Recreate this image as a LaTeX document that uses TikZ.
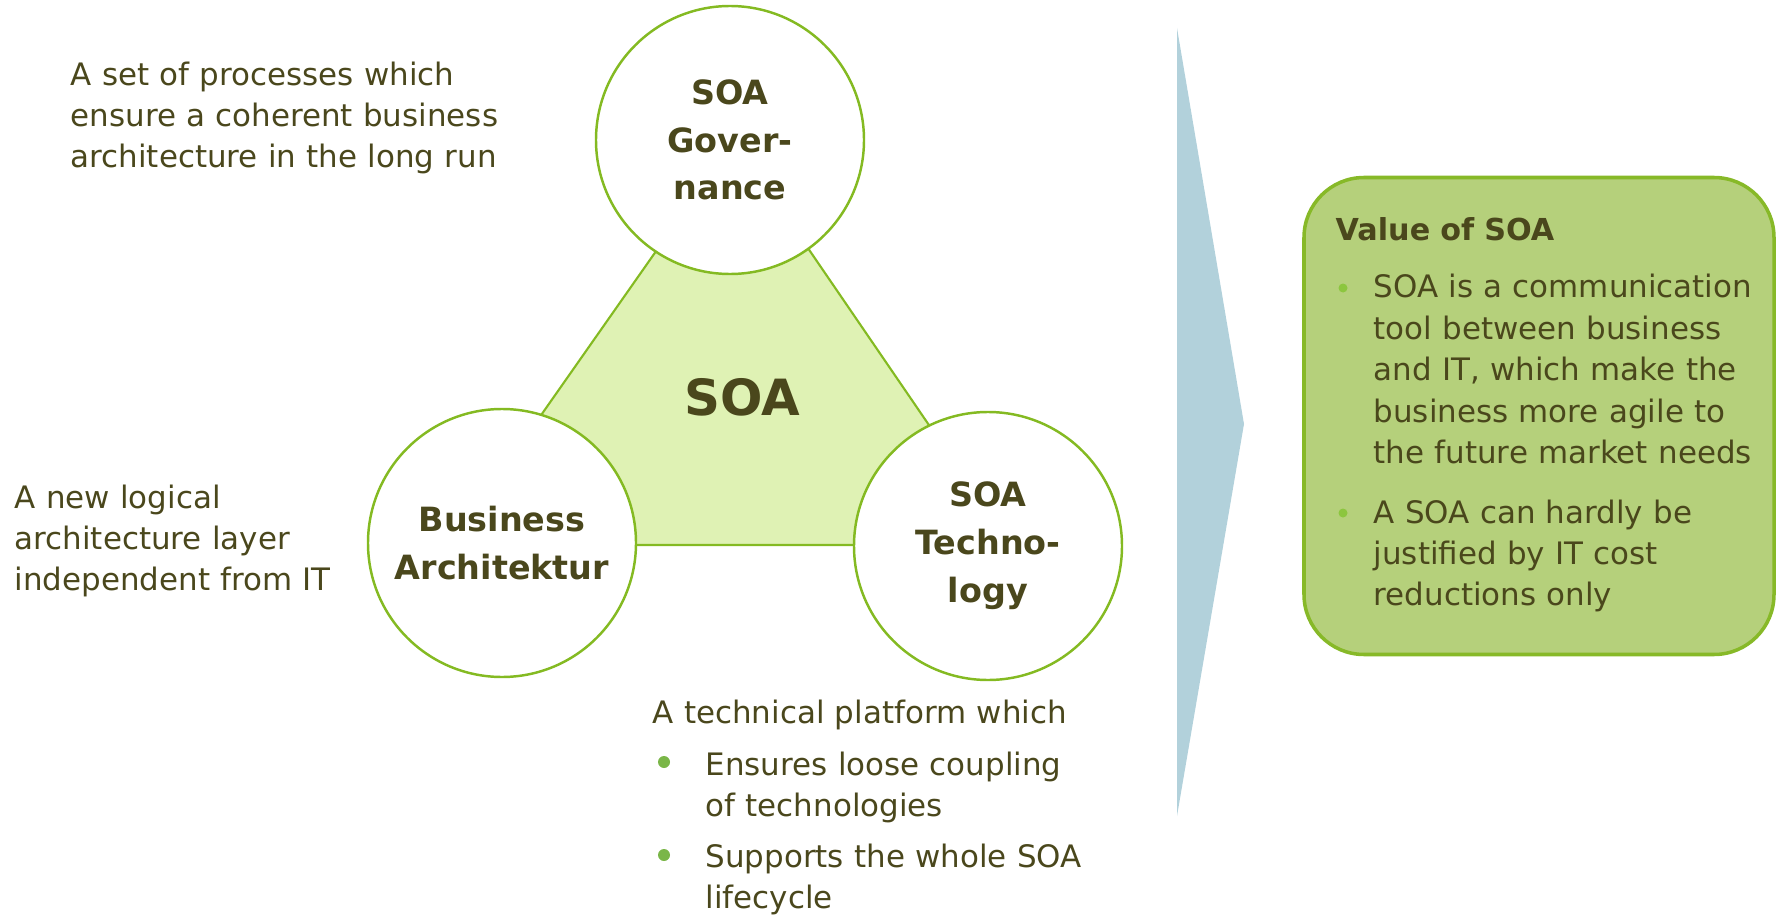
\documentclass[tikz,border=0pt]{standalone}
\usepackage{fontspec}
\setmainfont{DejaVu Sans}
\definecolor{soatext}{RGB}{74,71,28}
\definecolor{soaline}{RGB}{132,186,34}
\definecolor{soafill}{RGB}{223,242,180}
\definecolor{boxfill}{RGB}{181,208,123}
\definecolor{boxline}{RGB}{135,185,40}
\definecolor{arrowfill}{RGB}{178,209,219}
\definecolor{dotgreen}{RGB}{122,182,72}
\definecolor{dotlight}{RGB}{140,198,63}
\tikzset{
  circ/.style = {circle, draw = soaline, line width = 0.7pt, fill = white, minimum size = 2.68cm, inner sep = 0pt, align = center, text = soatext, font = \fontsize{9.5}{13.6}\selectfont\bfseries},
  desc/.style = {anchor = base west, inner sep = 0pt, text width = 5cm, align = left, text = soatext, font = \fontsize{8.8}{11.8}\selectfont},
  bulletdot/.style = {circle, fill = dotgreen, minimum size = 0.12cm, inner sep = 0pt},
  smalldot/.style = {circle, fill = dotlight, minimum size = 0.09cm, inner sep = 0pt},
  valuebox/.style = {rectangle, rounded corners = 0.6cm, draw = boxline, line width = 1pt, fill = boxfill, minimum width = 4.70cm, minimum height = 4.77cm}
}
\begin{document}
\begin{tikzpicture}
    \useasboundingbox (0, 0) rectangle (17.77, -9.15);
    % corners of the triangle behind the circles
    \coordinate (top corner) at (7.34, -1.40);
    \coordinate (left corner) at (4.50, -5.45);
    \coordinate (right corner) at (10.11, -5.45);
    \filldraw[fill = soafill, draw = soaline, line width = 0.6pt] (top corner) -- (left corner) -- (right corner) -- cycle;
    \node[circ] (gov) at (7.30, -1.40) {SOA\\Gover-\\nance};
    \node[circ] (ba) at (5.02, -5.43) {Business\\Architektur};
    \node[circ] (tech) at (9.88, -5.46) {SOA\\Techno-\\logy};
    \node[text = soatext, font = \fontsize{14.2}{17}\selectfont\bfseries] (soa) at (7.42, -3.97) {SOA};
    \node[desc] (govtext) at (0.70, -0.85) {A set of processes which\\ensure a coherent business\\architecture in the long run};
    \node[desc] (batext) at (0.14, -5.08) {A new logical\\architecture layer\\independent from IT};
    \node[desc] (techtext) at (6.52, -7.23) {A technical platform which};
    \node[bulletdot] (dot1) at (6.64, -7.62) {};
    \node[desc] (ensure) at (7.05, -7.75) {Ensures loose coupling\\of technologies};
    \node[bulletdot] (dot2) at (6.64, -8.55) {};
    \node[desc] (support) at (7.05, -8.67) {Supports the whole SOA\\lifecycle};
    % arrow towards the value box
    \fill[arrowfill] (11.77, -0.28) -- (12.44, -4.24) -- (11.77, -8.16) -- cycle;
    \node[valuebox] (value) at (15.39, -4.16) {};
    \node[desc, font = \fontsize{8.6}{11.8}\selectfont\bfseries] (valuetitle) at (13.35, -2.40) {Value of SOA};
    \node[smalldot] (dot3) at (13.43, -2.88) {};
    \node[desc] (comm) at (13.73, -2.98) {SOA is a communication\\tool between business\\and IT, which make the\\business more agile to\\the future market needs};
    \node[smalldot] (dot4) at (13.43, -5.13) {};
    \node[desc] (cost) at (13.73, -5.23) {A SOA can hardly be\\justified by IT cost\\reductions only};
\end{tikzpicture}
\end{document}
